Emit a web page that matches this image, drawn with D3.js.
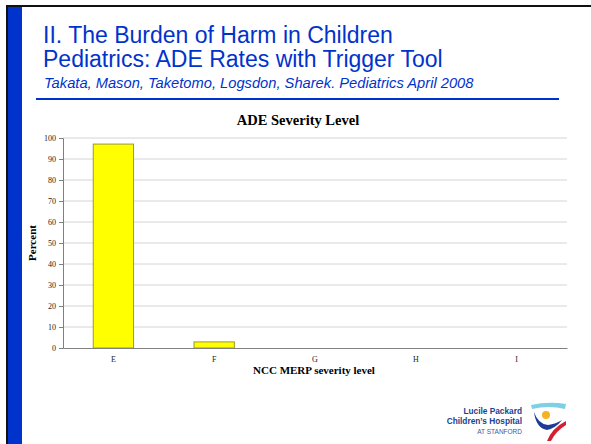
<!DOCTYPE html>
<html>
<head>
<meta charset="utf-8">
<script src="https://cdn.jsdelivr.net/npm/d3@7"></script>
<style>
  body { margin: 0; background: #fff; }
  svg { display: block; }
</style>
</head>
<body>
<svg id="slide" width="591" height="444"></svg>
<script>
// chart data
const categories = ['E', 'F', 'G', 'H', 'I']
const percentValues = [97.1, 2.9, 0, 0, 0]
const yTickValues = [0, 10, 20, 30, 40, 50, 60, 70, 80, 90, 100]

const titleLines = ['II. The Burden of Harm in Children', 'Pediatrics: ADE Rates with Trigger Tool']
const subtitle = 'Takata, Mason, Taketomo, Logsdon, Sharek. Pediatrics April 2008'
const logoLines = ['Lucile Packard', "Children\u2019s Hospital", 'AT STANFORD']

const svg = d3.select('#slide')
const blue = '#0033cc'
const serif = '"Liberation Serif", "Times New Roman", serif'
const sans = '"Liberation Sans", Arial, sans-serif'

// slide frame: black top/left border and blue band
svg.append('rect').attr('x', 6).attr('y', 5).attr('width', 585).attr('height', 2).attr('fill', '#111')
svg.append('rect').attr('x', 6).attr('y', 5).attr('width', 2).attr('height', 439).attr('fill', '#111')
svg.append('rect').attr('x', 8).attr('y', 7).attr('width', 14).attr('height', 437).attr('fill', blue)

// slide title, one text block with a line per tspan
svg.append('text')
    .attr('font-family', sans)
    .attr('font-size', 23)
    .attr('fill', blue)
    .selectAll('tspan')
    .data(titleLines)
    .join('tspan')
    .attr('x', 43)
    .attr('y', (d, i) => 43 + i * 24)
    .text(d => d)

svg.append('text')
    .attr('x', 44)
    .attr('y', 88)
    .attr('font-family', sans)
    .attr('font-style', 'italic')
    .attr('font-size', 14.7)
    .attr('fill', blue)
    .text(subtitle)

svg.append('rect').attr('x', 36).attr('y', 98).attr('width', 523).attr('height', 2).attr('fill', blue)

// chart
const plot = { left: 63, right: 567, top: 138, bottom: 348 }

const xScale = d3.scaleBand()
    .domain(categories)
    .range([plot.left, plot.right])
    .padding(0)

const yScale = d3.scaleLinear()
    .domain([0, 100])
    .range([plot.bottom, plot.top])

svg.append('text')
    .attr('x', 298)
    .attr('y', 125)
    .attr('text-anchor', 'middle')
    .attr('font-family', serif)
    .attr('font-weight', 'bold')
    .attr('font-size', 14.5)
    .attr('fill', '#000')
    .text('ADE Severity Level')

// gridlines
svg.append('g')
    .selectAll('line')
    .data(yTickValues.filter(d => d > 0))
    .join('line')
    .attr('x1', plot.left)
    .attr('x2', plot.right)
    .attr('y1', d => yScale(d))
    .attr('y2', d => yScale(d))
    .attr('stroke', '#d4d4d4')
    .attr('stroke-width', 1)

// y axis
const yAxis = svg.append('g')
    .attr('transform', `translate(${plot.left},0)`)
    .call(d3.axisLeft(yScale).tickValues(yTickValues).tickSize(4).tickPadding(3))

yAxis.select('.domain').attr('stroke', '#808080')
yAxis.selectAll('.tick line').attr('stroke', '#808080')
yAxis.selectAll('.tick text')
    .attr('font-family', serif)
    .attr('font-size', 8)
    .attr('fill', '#222')

// bars
const barWidth = xScale.bandwidth() * 0.4
svg.append('g')
    .selectAll('rect')
    .data(categories.map((c, i) => ({ cat: c, value: percentValues[i] })).filter(d => d.value > 0))
    .join('rect')
    .attr('x', d => xScale(d.cat) + (xScale.bandwidth() - barWidth) / 2)
    .attr('y', d => yScale(d.value))
    .attr('width', barWidth)
    .attr('height', d => yScale(0) - yScale(d.value))
    .attr('fill', '#ffff00')
    .attr('stroke', '#9a9a2a')
    .attr('stroke-width', 1)

// x axis
const xAxis = svg.append('g')
    .attr('transform', `translate(0,${plot.bottom})`)
    .call(d3.axisBottom(xScale).tickSize(0).tickPadding(8))

xAxis.select('.domain').attr('stroke', '#808080').attr('stroke-width', 1.2)
xAxis.selectAll('.tick text')
    .attr('font-family', serif)
    .attr('font-size', 8)
    .attr('fill', '#222')

svg.append('text')
    .attr('x', 314)
    .attr('y', 374)
    .attr('text-anchor', 'middle')
    .attr('font-family', serif)
    .attr('font-weight', 'bold')
    .attr('font-size', 11)
    .attr('fill', '#000')
    .text('NCC MERP severity level')

svg.append('text')
    .attr('transform', `translate(36,${(plot.top + plot.bottom) / 2}) rotate(-90)`)
    .attr('text-anchor', 'middle')
    .attr('font-family', serif)
    .attr('font-weight', 'bold')
    .attr('font-size', 11)
    .attr('fill', '#000')
    .text('Percent')

// hospital logo
const logo = svg.append('g')
logo.selectAll('text')
    .data(logoLines)
    .join('text')
    .attr('x', 522)
    .attr('y', (d, i) => 414 + i * 10)
    .attr('text-anchor', 'end')
    .attr('font-family', sans)
    .attr('font-weight', (d, i) => i < 2 ? 'bold' : 'normal')
    .attr('font-size', (d, i) => i < 2 ? 8.3 : 6.5)
    .attr('fill', (d, i) => i < 2 ? '#23408e' : '#3a5aa8')
    .text(d => d)

logo.append('path')
    .attr('d', 'M531,405 Q548,401 566,404 L565,409 Q549,405 532,409 Z')
    .attr('fill', '#7fd0e4')
logo.append('circle').attr('cx', 546).attr('cy', 415).attr('r', 4).attr('fill', '#f5b324')
logo.append('path')
    .attr('d', 'M534,412 Q538,424 548,425 Q556,424 562,420 Q556,428 547,430 Q536,428 534,412 Z')
    .attr('fill', '#1e3c96')
logo.append('path')
    .attr('d', 'M566,421 Q552,428 547,441 L551,441 Q556,431 566,425 Z')
    .attr('fill', '#d32031')
</script>
</body>
</html>
